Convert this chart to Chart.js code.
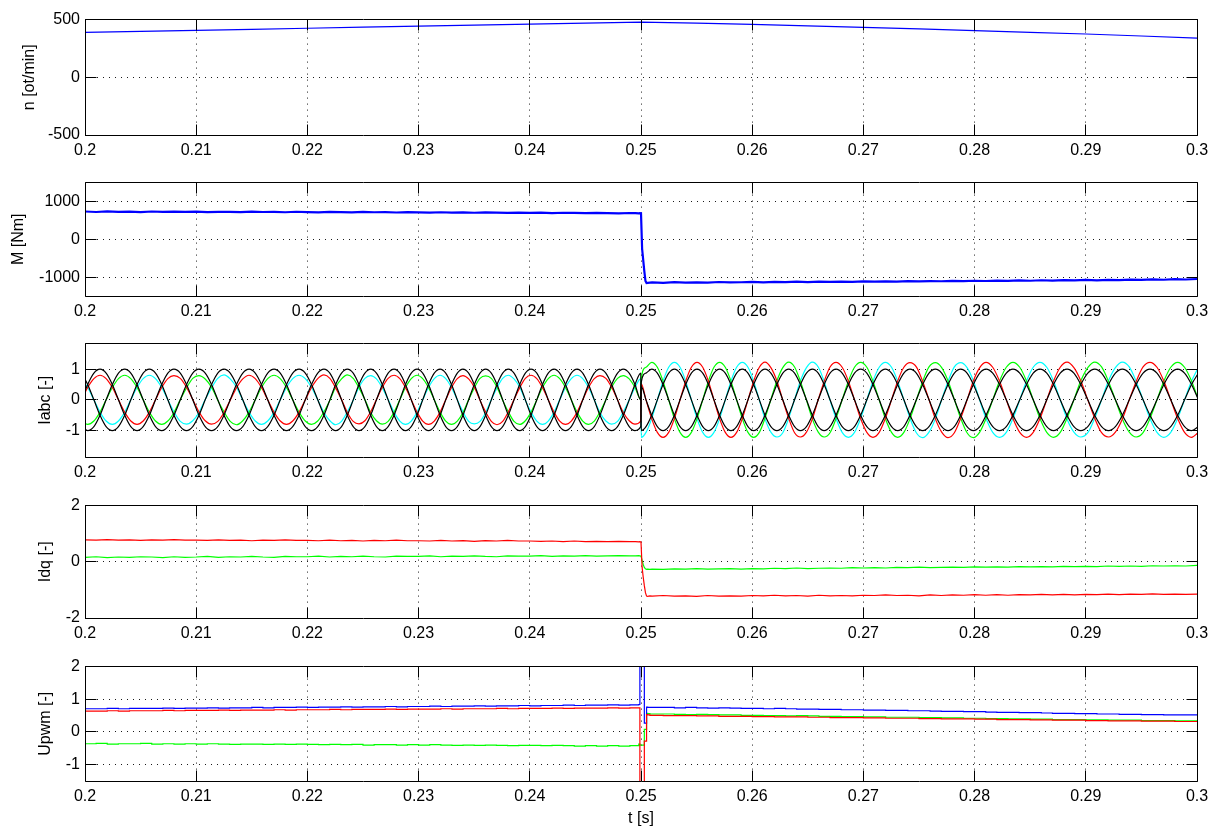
<!DOCTYPE html>
<html>
<head>
<meta charset="utf-8">
<script src="https://cdn.jsdelivr.net/npm/chart.js@4.4.1/dist/chart.umd.min.js"></script>
<style>
  body { margin: 0; background: #fff; }
  #fig { position: relative; width: 1222px; height: 829px; background: #fff; }
  #fig canvas { position: absolute; left: 0; }
</style>
</head>
<body>
<div id="fig">
  <canvas id="c1"></canvas>
  <canvas id="c2"></canvas>
  <canvas id="c3"></canvas>
  <canvas id="c4"></canvas>
  <canvas id="c5"></canvas>
</div>
<script>
// x axis (time, s)
const xTickVals = [0.2, 0.21, 0.22, 0.23, 0.24, 0.25, 0.26, 0.27, 0.28, 0.29, 0.3];
const xTickLabels = ['0.2', '0.21', '0.22', '0.23', '0.24', '0.25', '0.26', '0.27', '0.28', '0.29', '0.3'];

// y ticks per panel
const nTicks = [-500, 0, 500];
const nTickLabels = ['-500', '0', '500'];
const mTicks = [-1000, 0, 1000];
const mTickLabels = ['-1000', '0', '1000'];
const iTicks = [-1, 0, 1];
const iTickLabels = ['-1', '0', '1'];
const dqTicks = [-2, 0, 2];
const dqTickLabels = ['-2', '0', '2'];
const uTicks = [-1, 0, 1, 2];
const uTickLabels = ['-1', '0', '1', '2'];

// speed n [ot/min]
const nT = [0.2, 0.205, 0.21, 0.215, 0.22, 0.225, 0.23, 0.235, 0.24, 0.245, 0.25, 0.255, 0.26, 0.265, 0.27, 0.275, 0.28, 0.285, 0.29, 0.295, 0.3];
const nVal = [390, 398, 407, 416, 425, 434, 443, 452, 461, 470, 478, 470, 458, 446, 433, 419, 405, 390, 375, 358, 340];

// shared time base for M, Idq, Upwm
const tS = [0.2, 0.201, 0.202, 0.203, 0.204, 0.205, 0.206, 0.207, 0.208, 0.209,
  0.21, 0.211, 0.212, 0.213, 0.214, 0.215, 0.216, 0.217, 0.218, 0.219,
  0.22, 0.221, 0.222, 0.223, 0.224, 0.225, 0.226, 0.227, 0.228, 0.229,
  0.23, 0.231, 0.232, 0.233, 0.234, 0.235, 0.236, 0.237, 0.238, 0.239,
  0.24, 0.241, 0.242, 0.243, 0.244, 0.245, 0.246, 0.247, 0.248, 0.249,
  0.2495, 0.2498, 0.2499, 0.25, 0.2501, 0.2502, 0.2503, 0.2504, 0.2505, 0.2506, 0.2508,
  0.251, 0.252, 0.253, 0.254, 0.255, 0.256, 0.257, 0.258, 0.259, 0.26,
  0.261, 0.262, 0.263, 0.264, 0.265, 0.266, 0.267, 0.268, 0.269, 0.27,
  0.271, 0.272, 0.273, 0.274, 0.275, 0.276, 0.277, 0.278, 0.279, 0.28,
  0.281, 0.282, 0.283, 0.284, 0.285, 0.286, 0.287, 0.288, 0.289, 0.29,
  0.291, 0.292, 0.293, 0.294, 0.295, 0.296, 0.297, 0.298, 0.299, 0.3];

// torque M [Nm]
const mVal = [735, 722, 740, 728, 731, 719, 736, 725, 730, 724,
  733, 720, 728, 726, 718, 731, 722, 727, 716, 729,
  721, 714, 726, 719, 712, 724, 715, 720, 709, 718,
  711, 705, 716, 708, 712, 702, 710, 704, 698, 707,
  700, 706, 695, 703, 697, 690, 699, 693, 688, 696,
  692, 686, 690, 688, -250, -550, -850, -1100, -1160, -1155, -1145,
  -1140, -1152, -1135, -1148, -1138, -1145, -1130, -1142, -1136, -1128,
  -1140, -1126, -1135, -1122, -1131, -1120, -1128, -1118, -1125, -1114,
  -1122, -1112, -1118, -1106, -1115, -1104, -1110, -1098, -1107, -1096,
  -1103, -1092, -1100, -1088, -1096, -1084, -1092, -1080, -1088, -1076,
  -1085, -1072, -1080, -1066, -1075, -1060, -1070, -1055, -1064, -1050];

// Idq [-]
const idqRed = [0.78, 0.77, 0.79, 0.77, 0.78, 0.76, 0.78, 0.77, 0.79, 0.77,
  0.77, 0.76, 0.78, 0.76, 0.77, 0.75, 0.77, 0.76, 0.78, 0.76,
  0.76, 0.75, 0.77, 0.75, 0.76, 0.74, 0.76, 0.75, 0.77, 0.75,
  0.75, 0.74, 0.76, 0.74, 0.75, 0.73, 0.75, 0.74, 0.76, 0.74,
  0.74, 0.73, 0.74, 0.72, 0.74, 0.72, 0.73, 0.72, 0.73, 0.72,
  0.72, 0.71, 0.72, 0.71, -0.2, -0.55, -0.85, -1.1, -1.22, -1.23, -1.21,
  -1.22, -1.2, -1.22, -1.21, -1.23, -1.2, -1.22, -1.21, -1.22, -1.2,
  -1.21, -1.19, -1.21, -1.2, -1.22, -1.19, -1.21, -1.2, -1.21, -1.19,
  -1.2, -1.18, -1.2, -1.19, -1.21, -1.18, -1.2, -1.18, -1.19, -1.17,
  -1.19, -1.17, -1.19, -1.17, -1.18, -1.16, -1.18, -1.16, -1.18, -1.16,
  -1.17, -1.15, -1.17, -1.15, -1.16, -1.14, -1.16, -1.15, -1.16, -1.15];
const idqGreen = [0.16, 0.18, 0.15, 0.17, 0.16, 0.18, 0.17, 0.15, 0.18, 0.16,
  0.17, 0.19, 0.16, 0.18, 0.17, 0.19, 0.17, 0.16, 0.19, 0.18,
  0.18, 0.2, 0.17, 0.19, 0.18, 0.2, 0.18, 0.17, 0.2, 0.19,
  0.19, 0.21, 0.18, 0.2, 0.19, 0.21, 0.19, 0.18, 0.21, 0.2,
  0.2, 0.22, 0.19, 0.21, 0.2, 0.22, 0.2, 0.21, 0.22, 0.21,
  0.21, 0.22, 0.21, 0.2, 0.05, -0.1, -0.2, -0.25, -0.27, -0.26, -0.27,
  -0.26, -0.27, -0.25, -0.26, -0.24, -0.26, -0.25, -0.24, -0.26, -0.24,
  -0.25, -0.23, -0.24, -0.22, -0.24, -0.23, -0.22, -0.23, -0.21, -0.22,
  -0.21, -0.22, -0.2, -0.21, -0.19, -0.21, -0.2, -0.19, -0.2, -0.18,
  -0.19, -0.18, -0.19, -0.17, -0.18, -0.17, -0.18, -0.16, -0.17, -0.16,
  -0.17, -0.15, -0.16, -0.15, -0.16, -0.14, -0.15, -0.14, -0.15, -0.13];

// Upwm [-]
const uBlue = [0.71, 0.71, 0.72, 0.71, 0.72, 0.72, 0.72, 0.73, 0.72, 0.73,
  0.73, 0.74, 0.73, 0.74, 0.74, 0.75, 0.74, 0.75, 0.75, 0.76,
  0.75, 0.76, 0.76, 0.77, 0.76, 0.77, 0.77, 0.78, 0.77, 0.78,
  0.78, 0.79, 0.78, 0.79, 0.79, 0.8, 0.79, 0.8, 0.8, 0.81,
  0.8, 0.81, 0.81, 0.82, 0.81, 0.82, 0.82, 0.83, 0.82, 0.83,
  0.83, 0.84, 2.6, 2.6, 2.6, 2.6, 0.27, 0.27, 0.76, 0.75, 0.75,
  0.75, 0.75, 0.74, 0.75, 0.74, 0.73, 0.74, 0.73, 0.72, 0.72,
  0.71, 0.72, 0.71, 0.7, 0.7, 0.69, 0.69, 0.68, 0.68, 0.67,
  0.67, 0.66, 0.66, 0.65, 0.65, 0.64, 0.63, 0.63, 0.62, 0.62,
  0.61, 0.6, 0.6, 0.59, 0.59, 0.58, 0.57, 0.57, 0.56, 0.56,
  0.55, 0.55, 0.54, 0.54, 0.53, 0.53, 0.52, 0.52, 0.52, 0.51];
const uRed = [0.64, 0.64, 0.65, 0.64, 0.65, 0.65, 0.65, 0.66, 0.65, 0.66,
  0.66, 0.66, 0.67, 0.66, 0.67, 0.67, 0.67, 0.68, 0.67, 0.68,
  0.68, 0.68, 0.69, 0.68, 0.69, 0.69, 0.69, 0.7, 0.69, 0.7,
  0.7, 0.7, 0.71, 0.7, 0.71, 0.71, 0.71, 0.72, 0.71, 0.72,
  0.72, 0.72, 0.73, 0.72, 0.73, 0.73, 0.73, 0.74, 0.73, 0.74,
  0.74, 0.74, -2, -2, -2, -2, -0.28, -0.28, 0.53, 0.52, 0.51,
  0.51, 0.5, 0.5, 0.5, 0.49, 0.49, 0.48, 0.48, 0.48, 0.47,
  0.47, 0.46, 0.46, 0.46, 0.45, 0.45, 0.44, 0.44, 0.44, 0.43,
  0.43, 0.42, 0.42, 0.42, 0.41, 0.41, 0.4, 0.4, 0.4, 0.39,
  0.39, 0.38, 0.38, 0.38, 0.37, 0.37, 0.36, 0.36, 0.36, 0.35,
  0.35, 0.34, 0.34, 0.34, 0.33, 0.33, 0.33, 0.32, 0.32, 0.32];
const uGreen = [-0.36, -0.35, -0.37, -0.36, -0.36, -0.35, -0.37, -0.36, -0.37, -0.36,
  -0.37, -0.36, -0.37, -0.38, -0.37, -0.37, -0.38, -0.37, -0.38, -0.37,
  -0.38, -0.39, -0.38, -0.39, -0.38, -0.4, -0.39, -0.39, -0.4, -0.39,
  -0.4, -0.39, -0.4, -0.41, -0.4, -0.41, -0.4, -0.41, -0.42, -0.41,
  -0.41, -0.42, -0.41, -0.42, -0.43, -0.42, -0.43, -0.42, -0.43, -0.42,
  -0.42, -0.37, -0.4, -0.4, -0.4, -0.4, 0.08, 0.08, 0.57, 0.56, 0.55,
  0.55, 0.55, 0.54, 0.53, 0.54, 0.53, 0.52, 0.52, 0.51, 0.51,
  0.5, 0.5, 0.49, 0.5, 0.49, 0.48, 0.48, 0.47, 0.47, 0.46,
  0.46, 0.45, 0.45, 0.45, 0.44, 0.44, 0.43, 0.43, 0.42, 0.42,
  0.41, 0.41, 0.4, 0.4, 0.39, 0.39, 0.38, 0.38, 0.38, 0.37,
  0.37, 0.36, 0.36, 0.36, 0.35, 0.35, 0.35, 0.34, 0.34, 0.34];

// phase currents Iabc [-], sampled at 1/12 of the electrical period
const tI = [0.19969, 0.20024, 0.2008,
  0.20135, 0.2019, 0.20246, 0.20301, 0.20357, 0.20412, 0.20468, 0.20523, 0.20579, 0.20634, 0.2069, 0.20745,
  0.208, 0.20857, 0.20913, 0.20969, 0.21025, 0.21081, 0.21138, 0.21194, 0.2125, 0.21306, 0.21362, 0.21419,
  0.21475, 0.21531, 0.21587, 0.21643, 0.217, 0.21756, 0.21812, 0.21868, 0.21925, 0.21981, 0.22037, 0.22093,
  0.22149, 0.22202, 0.22254, 0.22307, 0.22359, 0.22412, 0.22464, 0.22517, 0.22569, 0.22621, 0.22674, 0.22726,
  0.22779, 0.22831, 0.22882, 0.22934, 0.22986, 0.23037, 0.23089, 0.23141, 0.23193, 0.23244, 0.23296, 0.23348,
  0.23399, 0.2345, 0.23501, 0.23552, 0.23603, 0.23654, 0.23705, 0.23756, 0.23807, 0.23858, 0.23909, 0.2396,
  0.24011, 0.24063, 0.24114, 0.24166, 0.24218, 0.24269, 0.24321, 0.24373, 0.24425, 0.24476, 0.24528, 0.2458,
  0.24631, 0.24684, 0.24736, 0.24789, 0.24841, 0.24894, 0.24946,
  0.24998,
  0.25002,
  0.25045, 0.25096, 0.25147, 0.25198, 0.25249, 0.253, 0.25351, 0.25402, 0.25453,
  0.25504, 0.25555, 0.25606, 0.25656, 0.25707, 0.25758, 0.25809, 0.2586, 0.25911, 0.25962, 0.26013, 0.26064,
  0.26115, 0.26168, 0.26222, 0.26275, 0.26328, 0.26381, 0.26434, 0.26488, 0.26541, 0.26594, 0.26647, 0.267,
  0.26754, 0.26809, 0.26865, 0.2692, 0.26975, 0.27031, 0.27086, 0.27142, 0.27197, 0.27253, 0.27308, 0.27364,
  0.27419, 0.27476, 0.27533, 0.2759, 0.27647, 0.27704, 0.27761, 0.27818, 0.27875, 0.27932, 0.27989, 0.28046,
  0.28103, 0.28163, 0.28224, 0.28285, 0.28345, 0.28406, 0.28467, 0.28527, 0.28588, 0.28649, 0.2871, 0.2877,
  0.28831, 0.28893, 0.28955, 0.29018, 0.2908, 0.29142, 0.29204, 0.29266, 0.29329, 0.29391, 0.29453, 0.29515,
  0.29577, 0.2964, 0.29702, 0.29764, 0.29826, 0.29888, 0.29951, 0.30013];

const iaMeas = [0, 0.4, 0.69,
  0.8, 0.69, 0.4, 0, -0.4, -0.69, -0.8, -0.69, -0.4, 0, 0.4, 0.69,
  0.79, 0.7, 0.41, 0.01, -0.39, -0.68, -0.79, -0.7, -0.41, -0.01, 0.39, 0.68,
  0.8, 0.69, 0.4, 0, -0.4, -0.69, -0.8, -0.69, -0.4, 0, 0.4, 0.69,
  0.81, 0.7, 0.39, 0.01, -0.41, -0.7, -0.78, -0.68, -0.39, 0.01, 0.41, 0.7,
  0.8, 0.69, 0.4, 0, -0.4, -0.69, -0.8, -0.69, -0.4, 0, 0.4, 0.69,
  0.79, 0.68, 0.41, -0.01, -0.39, -0.7, -0.81, -0.7, -0.39, 0.01, 0.39, 0.7,
  0.8, 0.69, 0.4, 0, -0.4, -0.69, -0.8, -0.69, -0.4, 0, 0.4, 0.69,
  0.79, 0.7, 0.41, 0, -0.41, -0.68, -0.79,
  -0.69,
  0.52,
  0, -0.61, -1.06, -1.22, -1.06, -0.61, 0, 0.61, 1.06,
  1.22, 1.06, 0.61, 0, -0.61, -1.06, -1.22, -1.06, -0.61, 0, 0.61, 1.06,
  1.23, 1.05, 0.62, -0.01, -0.6, -1.07, -1.21, -1.05, -0.62, 0.01, 0.6, 1.07,
  1.22, 1.06, 0.61, 0, -0.61, -1.06, -1.22, -1.06, -0.61, 0, 0.61, 1.06,
  1.21, 1.07, 0.6, 0.01, -0.62, -1.05, -1.23, -1.07, -0.6, -0.01, 0.62, 1.05,
  1.22, 1.06, 0.61, 0, -0.61, -1.06, -1.22, -1.06, -0.61, 0, 0.61, 1.06,
  1.23, 1.05, 0.62, 0, -0.6, -1.07, -1.21, -1.05, -0.62, 0, 0.6, 1.07,
  1.22, 1.06, 0.61, 0, -0.61, -1.06, -1.22, -1.06];
const ibMeas = [-0.69, -0.8, -0.69,
  -0.4, 0, 0.4, 0.69, 0.8, 0.69, 0.4, 0, -0.4, -0.69, -0.8, -0.69,
  -0.41, 0.01, 0.39, 0.7, 0.79, 0.68, 0.41, -0.01, -0.39, -0.7, -0.81, -0.68,
  -0.4, 0, 0.4, 0.69, 0.8, 0.69, 0.4, 0, -0.4, -0.69, -0.8, -0.69,
  -0.39, -0.01, 0.41, 0.68, 0.81, 0.7, 0.39, 0.01, -0.41, -0.68, -0.79, -0.7,
  -0.4, 0, 0.4, 0.69, 0.8, 0.69, 0.4, 0, -0.4, -0.69, -0.8, -0.69,
  -0.41, 0.01, 0.39, 0.7, 0.78, 0.7, 0.41, -0.01, -0.39, -0.7, -0.8, -0.68,
  -0.4, 0, 0.4, 0.69, 0.8, 0.69, 0.4, 0, -0.4, -0.69, -0.8, -0.69,
  -0.39, 0, 0.41, 0.7, 0.79, 0.68, 0.4,
  0.01,
  0.69,
  1.06, 1.22, 1.06, 0.61, 0, -0.61, -1.06, -1.22, -1.06,
  -0.61, 0, 0.61, 1.06, 1.22, 1.06, 0.61, 0, -0.61, -1.06, -1.22, -1.06,
  -0.6, 0.01, 0.62, 1.05, 1.23, 1.07, 0.6, -0.01, -0.62, -1.05, -1.21, -1.07,
  -0.61, 0, 0.61, 1.06, 1.22, 1.06, 0.61, 0, -0.61, -1.06, -1.22, -1.06,
  -0.62, -0.01, 0.6, 1.07, 1.21, 1.05, 0.62, 0.01, -0.6, -1.07, -1.23, -1.05,
  -0.61, 0, 0.61, 1.06, 1.22, 1.06, 0.61, 0, -0.61, -1.06, -1.22, -1.06,
  -0.6, 0, 0.62, 1.05, 1.23, 1.07, 0.6, 0, -0.62, -1.05, -1.21, -1.07,
  -0.61, 0, 0.61, 1.06, 1.22, 1.06, 0.61, 0];
const icMeas = [0.69, 0.4, 0,
  -0.4, -0.69, -0.8, -0.69, -0.4, 0, 0.4, 0.69, 0.8, 0.69, 0.4, 0,
  -0.39, -0.7, -0.79, -0.68, -0.41, 0.01, 0.39, 0.7, 0.81, 0.68, 0.41, -0.01,
  -0.4, -0.69, -0.8, -0.69, -0.4, 0, 0.4, 0.69, 0.8, 0.69, 0.4, 0,
  -0.41, -0.68, -0.81, -0.7, -0.39, -0.01, 0.41, 0.7, 0.79, 0.68, 0.39, 0.01,
  -0.4, -0.69, -0.8, -0.69, -0.4, 0, 0.4, 0.69, 0.8, 0.69, 0.4, 0,
  -0.39, -0.7, -0.78, -0.7, -0.41, 0.01, 0.39, 0.7, 0.8, 0.68, 0.41, -0.01,
  -0.4, -0.69, -0.8, -0.69, -0.4, 0, 0.4, 0.69, 0.8, 0.69, 0.4, 0,
  -0.41, -0.69, -0.79, -0.7, -0.39, 0, 0.4,
  0.69,
  -1.22,
  -1.06, -0.61, 0, 0.61, 1.06, 1.22, 1.06, 0.61, 0,
  -0.61, -1.06, -1.22, -1.06, -0.61, 0, 0.61, 1.06, 1.22, 1.06, 0.61, 0,
  -0.62, -1.05, -1.21, -1.07, -0.6, 0.01, 0.62, 1.05, 1.23, 1.07, 0.6, -0.01,
  -0.61, -1.06, -1.22, -1.06, -0.61, 0, 0.61, 1.06, 1.22, 1.06, 0.61, 0,
  -0.6, -1.07, -1.23, -1.05, -0.62, 0.01, 0.6, 1.07, 1.21, 1.05, 0.62, -0.01,
  -0.61, -1.06, -1.22, -1.06, -0.61, 0, 0.61, 1.06, 1.22, 1.06, 0.61, 0,
  -0.62, -1.05, -1.21, -1.07, -0.6, 0, 0.62, 1.05, 1.23, 1.07, 0.6, 0,
  -0.61, -1.06, -1.22, -1.06, -0.61, 0, 0.61, 1.06];

// reference currents (black)
const iaRef = [0, 0.5, 0.87,
  1, 0.87, 0.5, 0, -0.5, -0.87, -1, -0.87, -0.5, 0, 0.5, 0.87,
  1, 0.87, 0.5, 0, -0.5, -0.87, -1, -0.87, -0.5, 0, 0.5, 0.87,
  1, 0.87, 0.5, 0, -0.5, -0.87, -1, -0.87, -0.5, 0, 0.5, 0.87,
  1, 0.87, 0.5, 0, -0.5, -0.87, -1, -0.87, -0.5, 0, 0.5, 0.87,
  1, 0.87, 0.5, 0, -0.5, -0.87, -1, -0.87, -0.5, 0, 0.5, 0.87,
  1, 0.87, 0.5, 0, -0.5, -0.87, -1, -0.87, -0.5, 0, 0.5, 0.87,
  1, 0.87, 0.5, 0, -0.5, -0.87, -1, -0.87, -0.5, 0, 0.5, 0.87,
  1, 0.87, 0.5, 0, -0.5, -0.87, -1,
  -0.87,
  0.43,
  0, -0.5, -0.87, -1, -0.87, -0.5, 0, 0.5, 0.87,
  1, 0.87, 0.5, 0, -0.5, -0.87, -1, -0.87, -0.5, 0, 0.5, 0.87,
  1, 0.87, 0.5, 0, -0.5, -0.87, -1, -0.87, -0.5, 0, 0.5, 0.87,
  1, 0.87, 0.5, 0, -0.5, -0.87, -1, -0.87, -0.5, 0, 0.5, 0.87,
  1, 0.87, 0.5, 0, -0.5, -0.87, -1, -0.87, -0.5, 0, 0.5, 0.87,
  1, 0.87, 0.5, 0, -0.5, -0.87, -1, -0.87, -0.5, 0, 0.5, 0.87,
  1, 0.87, 0.5, 0, -0.5, -0.87, -1, -0.87, -0.5, 0, 0.5, 0.87,
  1, 0.87, 0.5, 0, -0.5, -0.87, -1, -0.87];
const ibRef = [-0.87, -1, -0.87,
  -0.5, 0, 0.5, 0.87, 1, 0.87, 0.5, 0, -0.5, -0.87, -1, -0.87,
  -0.5, 0, 0.5, 0.87, 1, 0.87, 0.5, 0, -0.5, -0.87, -1, -0.87,
  -0.5, 0, 0.5, 0.87, 1, 0.87, 0.5, 0, -0.5, -0.87, -1, -0.87,
  -0.5, 0, 0.5, 0.87, 1, 0.87, 0.5, 0, -0.5, -0.87, -1, -0.87,
  -0.5, 0, 0.5, 0.87, 1, 0.87, 0.5, 0, -0.5, -0.87, -1, -0.87,
  -0.5, 0, 0.5, 0.87, 1, 0.87, 0.5, 0, -0.5, -0.87, -1, -0.87,
  -0.5, 0, 0.5, 0.87, 1, 0.87, 0.5, 0, -0.5, -0.87, -1, -0.87,
  -0.5, 0, 0.5, 0.87, 1, 0.87, 0.5,
  0,
  0.57,
  0.87, 1, 0.87, 0.5, 0, -0.5, -0.87, -1, -0.87,
  -0.5, 0, 0.5, 0.87, 1, 0.87, 0.5, 0, -0.5, -0.87, -1, -0.87,
  -0.5, 0, 0.5, 0.87, 1, 0.87, 0.5, 0, -0.5, -0.87, -1, -0.87,
  -0.5, 0, 0.5, 0.87, 1, 0.87, 0.5, 0, -0.5, -0.87, -1, -0.87,
  -0.5, 0, 0.5, 0.87, 1, 0.87, 0.5, 0, -0.5, -0.87, -1, -0.87,
  -0.5, 0, 0.5, 0.87, 1, 0.87, 0.5, 0, -0.5, -0.87, -1, -0.87,
  -0.5, 0, 0.5, 0.87, 1, 0.87, 0.5, 0, -0.5, -0.87, -1, -0.87,
  -0.5, 0, 0.5, 0.87, 1, 0.87, 0.5, 0];
const icRef = [0.87, 0.5, 0,
  -0.5, -0.87, -1, -0.87, -0.5, 0, 0.5, 0.87, 1, 0.87, 0.5, 0,
  -0.5, -0.87, -1, -0.87, -0.5, 0, 0.5, 0.87, 1, 0.87, 0.5, 0,
  -0.5, -0.87, -1, -0.87, -0.5, 0, 0.5, 0.87, 1, 0.87, 0.5, 0,
  -0.5, -0.87, -1, -0.87, -0.5, 0, 0.5, 0.87, 1, 0.87, 0.5, 0,
  -0.5, -0.87, -1, -0.87, -0.5, 0, 0.5, 0.87, 1, 0.87, 0.5, 0,
  -0.5, -0.87, -1, -0.87, -0.5, 0, 0.5, 0.87, 1, 0.87, 0.5, 0,
  -0.5, -0.87, -1, -0.87, -0.5, 0, 0.5, 0.87, 1, 0.87, 0.5, 0,
  -0.5, -0.87, -1, -0.87, -0.5, 0, 0.5,
  0.87,
  -1,
  -0.87, -0.5, 0, 0.5, 0.87, 1, 0.87, 0.5, 0,
  -0.5, -0.87, -1, -0.87, -0.5, 0, 0.5, 0.87, 1, 0.87, 0.5, 0,
  -0.5, -0.87, -1, -0.87, -0.5, 0, 0.5, 0.87, 1, 0.87, 0.5, 0,
  -0.5, -0.87, -1, -0.87, -0.5, 0, 0.5, 0.87, 1, 0.87, 0.5, 0,
  -0.5, -0.87, -1, -0.87, -0.5, 0, 0.5, 0.87, 1, 0.87, 0.5, 0,
  -0.5, -0.87, -1, -0.87, -0.5, 0, 0.5, 0.87, 1, 0.87, 0.5, 0,
  -0.5, -0.87, -1, -0.87, -0.5, 0, 0.5, 0.87, 1, 0.87, 0.5, 0,
  -0.5, -0.87, -1, -0.87, -0.5, 0, 0.5, 0.87];

const FONT = "'Liberation Sans', Arial, Helvetica, sans-serif";
Chart.defaults.font.family = FONT;
Chart.defaults.font.size = 16;
Chart.defaults.color = '#000';

function pts(t, v) {
    return t.map((x, i) => ({ x: x, y: v[i] }));
}

function line(t, v, color, extra) {
    return Object.assign({
        data: pts(t, v),
        borderColor: color,
        borderWidth: 1.2,
        pointRadius: 0,
        fill: false,
        tension: 0
    }, extra || {});
}

// MATLAB style box with inward tick marks
const boxTicks = {
    id: 'boxTicks',
    afterDraw(chart) {
        const { ctx, chartArea: a } = chart;
        const xs = chart.scales.x, ys = chart.scales.y;
        const al = p => Math.round(p - 0.5) + 0.5;
        const L = al(a.left), R = al(a.right), T = al(a.top), B = al(a.bottom);
        const len = 11;
        ctx.save();
        ctx.strokeStyle = '#000';
        ctx.lineWidth = 1;
        ctx.setLineDash([]);
        ctx.beginPath();
        ctx.rect(L, T, R - L, B - T);
        xs.ticks.forEach(tk => {
            const px = al(xs.getPixelForValue(tk.value));
            ctx.moveTo(px, B); ctx.lineTo(px, B - len);
            ctx.moveTo(px, T); ctx.lineTo(px, T + len);
        });
        ys.ticks.forEach(tk => {
            const py = al(ys.getPixelForValue(tk.value));
            ctx.moveTo(L, py); ctx.lineTo(L + len, py);
            ctx.moveTo(R, py); ctx.lineTo(R - len, py);
        });
        ctx.stroke();
        ctx.restore();
    }
};

const smooth = { cubicInterpolationMode: 'monotone' };

const panels = [
    { id: 'c1', top: 17, h: 118, xh: 30, titleX: 30, label: 'n [ot/min]', min: -500, max: 500, ticks: nTicks, labels: nTickLabels,
      sets: [line(nT, nVal, '#0000ff')] },
    { id: 'c2', top: 180, h: 116, xh: 30, titleX: 19, label: 'M [Nm]', min: -1500, max: 1500, ticks: mTicks, labels: mTickLabels,
      sets: [line(tS, mVal, '#0000ff', { borderWidth: 2.2 })] },
    { id: 'c3', top: 341, h: 116, xh: 30, titleX: 46, label: 'Iabc [-]', min: -1.86, max: 1.83, ticks: iTicks, labels: iTickLabels,
      sets: [
        line(tI, iaRef, '#000000', smooth),
        line(tI, ibRef, '#000000', smooth),
        line(tI, icRef, '#000000', smooth),
        line(tI, iaMeas, '#ff0000', smooth),
        line(tI, ibMeas, '#00ff00', smooth),
        line(tI, icMeas, '#00ffff', smooth)
      ] },
    { id: 'c4', top: 503, h: 115, xh: 30, titleX: 46, label: 'Idq [-]', min: -2, max: 2, ticks: dqTicks, labels: dqTickLabels,
      sets: [line(tS, idqRed, '#ff0000'), line(tS, idqGreen, '#00ff00')] },
    { id: 'c5', top: 664, h: 117, xh: 48, titleX: 46, label: 'Upwm [-]', min: -1.5, max: 2, ticks: uTicks, labels: uTickLabels,
      xTitle: 't [s]',
      sets: [
        line(tS, uRed, '#ff0000', { stepped: true }),
        line(tS, uBlue, '#0000ff', { stepped: true }),
        line(tS, uGreen, '#00ff00', { stepped: true })
      ] }
];

panels.forEach(p => {
    const cv = document.getElementById(p.id);
    const padTop = 12;
    const height = padTop + p.h + p.xh;
    const padLeft = p.titleX - 9.6;
    cv.width = 1222;
    cv.height = height;
    cv.style.top = (p.top - padTop) + 'px';
    cv.style.width = '1222px';
    cv.style.height = height + 'px';

    new Chart(cv, {
        type: 'line',
        data: { datasets: p.sets },
        plugins: [boxTicks],
        options: {
            responsive: false,
            animation: false,
            devicePixelRatio: 1,
            layout: { padding: { top: padTop, right: 25, bottom: 0, left: padLeft } },
            plugins: { legend: { display: false }, tooltip: { enabled: false } },
            scales: {
                x: {
                    type: 'linear',
                    min: 0.2,
                    max: 0.3,
                    afterBuildTicks: s => { s.ticks = xTickVals.map(v => ({ value: v })); },
                    afterFit: s => { s.height = p.xh; },
                    ticks: {
                        autoSkip: false,
                        maxRotation: 0,
                        padding: 6,
                        color: '#000',
                        font: { size: 16 },
                        callback: (v, i) => xTickLabels[i]
                    },
                    grid: { color: '#1a1a1a', lineWidth: 1, drawTicks: false },
                    border: { display: false, dash: [1, 5] },
                    title: {
                        display: !!p.xTitle,
                        text: p.xTitle || '',
                        color: '#000',
                        font: { size: 16 },
                        padding: { top: 0, bottom: 1 }
                    }
                },
                y: {
                    type: 'linear',
                    min: p.min,
                    max: p.max,
                    afterBuildTicks: s => { s.ticks = p.ticks.map(v => ({ value: v })); },
                    afterFit: s => { s.width = 85 - padLeft; },
                    ticks: {
                        padding: 5,
                        color: '#000',
                        font: { size: 16 },
                        callback: (v, i) => p.labels[i]
                    },
                    grid: { color: '#1a1a1a', lineWidth: 1, drawTicks: false },
                    border: { display: false, dash: [1, 5] },
                    title: {
                        display: true,
                        text: p.label,
                        color: '#000',
                        font: { size: 16 },
                        padding: 0
                    }
                }
            }
        }
    });
});
</script>
</body>
</html>
